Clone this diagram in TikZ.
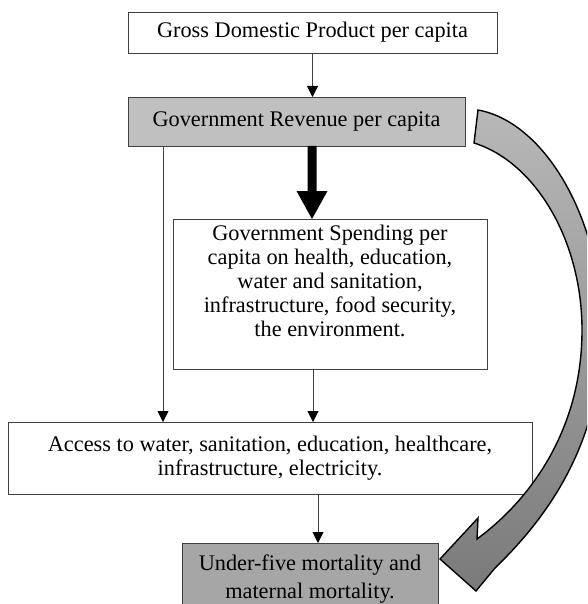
\documentclass[tikz,border=0pt]{standalone}
\usepackage{fontspec}
\setmainfont{Liberation Serif}
\usetikzlibrary{arrows.meta,calc}
\definecolor{revgray}{HTML}{C0C0C0}
\definecolor{u5gray}{HTML}{A6A6A6}
\definecolor{edge}{HTML}{404040}
\begin{document}
\begin{tikzpicture}[x=1pt,y=-1pt,
  boxstyle/.style={draw=edge, line width=0.9pt, inner sep=0pt, outer sep=0pt, anchor=north west},
  txt/.style={font=\fontsize{22.3}{24}\selectfont, align=center, inner sep=0pt},
  thinarrow/.style={draw=black!75, line width=0.9pt, -{Triangle[width=11pt,length=11pt,color=black]}},
  bigcurve/.style={draw=black, line width=1.4pt, top color=black!28, bottom color=black!52}
]
\useasboundingbox (0,0) rectangle (587,604);
\clip (0,0) rectangle (587,604);
% boxes
\node[boxstyle, txt, fill=white, minimum width=369pt, minimum height=41pt] (gdp) at (128,12) {Gross Domestic Product per capita};
\node[boxstyle, txt, fill=revgray, minimum width=337pt, minimum height=49pt] (gov) at (128,97) {Government Revenue per capita};
\node[boxstyle, fill=white, minimum width=314pt, minimum height=150pt] (spend) at (173,219) {};
\node[txt, anchor=north] (spendtxt) at ($(spend.north)+(0,6)$) {Government Spending per\\capita on health, education,\\water and sanitation,\\infrastructure, food security,\\the environment.};
\node[boxstyle, txt, fill=white, minimum width=524pt, minimum height=72pt] (access) at (8,422) {Access to water, sanitation, education, healthcare,\\infrastructure, electricity.};
\node[boxstyle, fill=u5gray, minimum width=256pt, minimum height=80pt] (u5) at (182,543) {};
\node[txt, font=\fontsize{22.3}{28}\selectfont, anchor=north] (u5txt) at ($(u5.north)+(0,12)$) {Under-five mortality and\\maternal mortality.};
% connector x positions
\coordinate (tk) at (312,0);
\coordinate (lx) at (163,0);
\coordinate (mx) at (313,0);
\coordinate (bx) at (318,0);
% arrows
\draw[thinarrow] (gdp.south) -- (gov.north -| gdp.south);
\fill[black] ($(gov.south -| tk)+(-4.5,0)$) -- ($(gov.south -| tk)+(4.5,0)$)
  -- ($(spend.north -| tk)+(4.5,-28)$) -- ($(spend.north -| tk)+(15.5,-28)$)
  -- (spend.north -| tk) -- ($(spend.north -| tk)+(-15.5,-28)$)
  -- ($(spend.north -| tk)+(-4.5,-28)$) -- cycle;
\draw[thinarrow] (gov.south -| lx) -- (access.north -| lx);
\draw[thinarrow] (spend.south -| mx) -- (access.north -| mx);
\draw[thinarrow] (access.south -| bx) -- (u5.north -| bx);
% curved arrow from revenue to mortality
\coordinate (cstart) at (478,110);
\coordinate (ctip) at (440,559);
\path[bigcurve] (cstart) .. controls (545,122) and (602,220) .. (602,330)
  .. controls (602,440) and (550,515) .. (495,568)
  -- (476,591) -- (ctip) -- (478,518) -- (477,539)
  .. controls (530,500) and (582,430) .. (582,330)
  .. controls (582,240) and (535,162) .. (474,143) -- cycle;
\end{tikzpicture}
\end{document}
